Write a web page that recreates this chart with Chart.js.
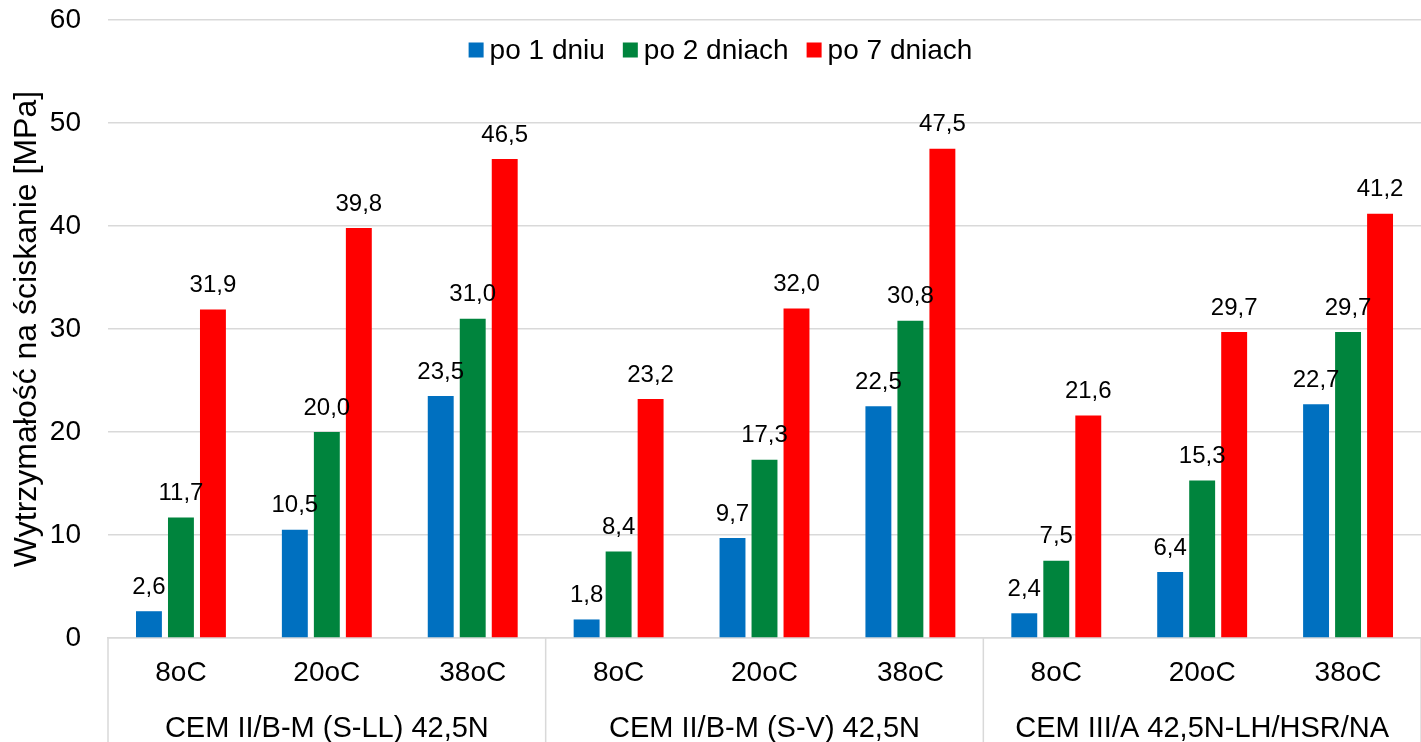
<!DOCTYPE html>
<html>
<head>
<meta charset="utf-8">
<script src="https://cdn.jsdelivr.net/npm/chart.js@4.4.1/dist/chart.umd.min.js"></script>
<style>
  html, body { margin: 0; padding: 0; background: #fff; }
  #wrap { width: 1421px; height: 742px; }
</style>
</head>
<body>
<div id="wrap"><canvas id="chart" width="1421" height="742"></canvas></div>
<script>
// kategorie i wartości
const temperatures = ['8oC', '20oC', '38oC', '8oC', '20oC', '38oC', '8oC', '20oC', '38oC'];
const cements = ['CEM II/B-M (S-LL) 42,5N', 'CEM II/B-M (S-V) 42,5N', 'CEM III/A 42,5N-LH/HSR/NA'];
const seriesNames = ['po 1 dniu', 'po 2 dniach', 'po 7 dniach'];
const after1Day = [2.6, 10.5, 23.5, 1.8, 9.7, 22.5, 2.4, 6.4, 22.7];
const after2Days = [11.7, 20.0, 31.0, 8.4, 17.3, 30.8, 7.5, 15.3, 29.7];
const after7Days = [31.9, 39.8, 46.5, 23.2, 32.0, 47.5, 21.6, 29.7, 41.2];
const yTicks = [0, 10, 20, 30, 40, 50, 60];

const FONT = '"Liberation Sans", Arial, sans-serif';
const GRID = '#d9d9d9';

// etykiety wartości nad słupkami
const valueLabels = {
    id: 'valueLabels',
    afterDatasetsDraw(chart) {
        const ctx = chart.ctx;
        ctx.save();
        ctx.font = '24px ' + FONT;
        ctx.fillStyle = '#000';
        ctx.textAlign = 'center';
        ctx.textBaseline = 'middle';
        chart.data.datasets.forEach((ds, i) => {
            chart.getDatasetMeta(i).data.forEach((bar, j) => {
                const txt = ds.data[j].toFixed(1).replace('.', ',');
                ctx.fillText(txt, bar.x, bar.y - 24);
            });
        });
        ctx.restore();
    }
};

// legenda w obszarze wykresu, u góry
const topLegend = {
    id: 'topLegend',
    afterDraw(chart) {
        const ctx = chart.ctx;
        const area = chart.chartArea;
        const box = 15, gap = 6, itemGap = 18;
        ctx.save();
        ctx.font = '28px ' + FONT;
        ctx.textBaseline = 'middle';
        ctx.textAlign = 'left';
        const items = chart.data.datasets.map(ds => ({
            text: ds.label, color: ds.backgroundColor, w: ctx.measureText(ds.label).width
        }));
        let total = items.reduce((s, it) => s + box + gap + it.w, 0) + itemGap * (items.length - 1);
        let x = chart.width / 2 + 10 - total / 2;
        const y = area.top + 30;
        items.forEach(it => {
            ctx.fillStyle = it.color;
            ctx.fillRect(x, y - box / 2, box, box);
            ctx.fillStyle = '#000';
            ctx.fillText(it.text, x + box + gap, y + 1);
            x += box + gap + it.w + itemGap;
        });
        ctx.restore();
    }
};

// linie oddzielające grupy pod osią X
const groupLines = {
    id: 'groupLines',
    afterDraw(chart) {
        const ctx = chart.ctx;
        const x = chart.scales.x;
        const per = temperatures.length / cements.length;
        const step = (x.getPixelForValue(1) - x.getPixelForValue(0));
        ctx.save();
        ctx.strokeStyle = GRID;
        ctx.lineWidth = 1.5;
        for (let g = 0; g <= cements.length; g++) {
            const px = x.getPixelForValue(g * per) - step / 2;
            ctx.beginPath();
            ctx.moveTo(px, chart.chartArea.bottom);
            ctx.lineTo(px, chart.height);
            ctx.stroke();
        }
        ctx.restore();
    }
};

new Chart(document.getElementById('chart').getContext('2d'), {
    type: 'bar',
    data: {
        labels: temperatures,
        datasets: [
            { label: seriesNames[0], data: after1Day, backgroundColor: '#0070c0' },
            { label: seriesNames[1], data: after2Days, backgroundColor: '#00843d' },
            { label: seriesNames[2], data: after7Days, backgroundColor: '#ff0000' }
        ]
    },
    options: {
        responsive: false,
        animation: false,
        layout: { padding: { top: 20, right: 0, left: 0, bottom: 0 } },
        datasets: {
            bar: { categoryPercentage: 0.658, barPercentage: 0.81 }
        },
        plugins: {
            legend: { display: false },
            tooltip: { enabled: false }
        },
        scales: {
            x: {
                grid: { display: false, drawTicks: false },
                border: { color: GRID, width: 1.5 },
                ticks: { color: '#000', padding: 18, font: { family: FONT, size: 28 } },
                afterFit(scale) { scale.height = 56; }
            },
            x2: {
                type: 'category',
                labels: cements,
                position: 'bottom',
                offset: true,
                grid: { display: false, drawTicks: false },
                border: { display: false },
                ticks: { color: '#000', padding: 18, font: { family: FONT, size: 29 } },
                afterFit(scale) { scale.height = 48; }
            },
            y: {
                min: 0,
                max: 60,
                afterBuildTicks(scale) {
                    scale.ticks = yTicks.map(v => ({ value: v }));
                },
                grid: { color: GRID, lineWidth: 1.5, drawTicks: false },
                border: { display: false },
                ticks: { color: '#000', padding: 27, font: { family: FONT, size: 28 } },
                title: {
                    display: true,
                    text: 'Wytrzymałość na ściskanie [MPa]',
                    color: '#000',
                    font: { family: FONT, size: 32 },
                    padding: { top: 8, bottom: 0 }
                },
                afterFit(scale) {
                    scale.width = 108;
                    scale.paddingTop = 0;
                    scale.paddingBottom = 0;
                }
            }
        }
    },
    plugins: [valueLabels, topLegend, groupLines]
});
</script>
</body>
</html>
